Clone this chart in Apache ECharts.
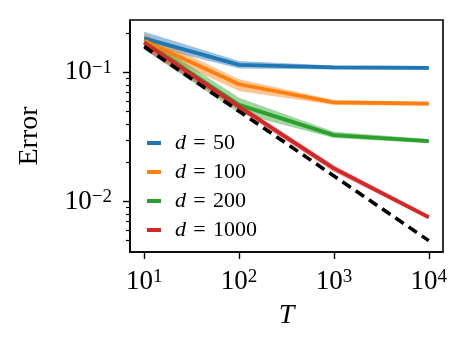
<!DOCTYPE html>
<html><head><meta charset="utf-8">
<script src="https://cdn.jsdelivr.net/npm/echarts@6/dist/echarts.min.js"></script>
<style>html,body{margin:0;padding:0;background:#fff}#c{width:467px;height:351px}</style>
</head><body><div id="c"></div>
<script>
// ---- data ----
const T = [10, 100, 1000, 10000];
const seriesNames = ['d = 50', 'd = 100', 'd = 200', 'd = 1000'];
const err50  = [0.183, 0.114, 0.109, 0.108];
const lo50   = [0.163, 0.107, 0.105, 0.104];
const hi50   = [0.206, 0.122, 0.113, 0.112];
const err100 = [0.175, 0.0808, 0.0586, 0.0572];
const lo100  = [0.155, 0.0717, 0.0558, 0.0552];
const hi100  = [0.198, 0.0883, 0.0611, 0.0593];
const err200 = [0.170, 0.056, 0.0327, 0.0294];
const lo200  = [0.150, 0.0482, 0.031, 0.0283];
const hi200  = [0.190, 0.0636, 0.0347, 0.0305];
const err1000 = [0.169, 0.0542, 0.0181, 0.00757];
const lo1000  = [0.150, 0.051, 0.0170, 0.00733];
const hi1000  = [0.183, 0.057, 0.0190, 0.00787];
const refT = [10, 10000];
const refErr = [0.158, 0.005];
const xTicks = [10, 100, 1000, 10000];
const yTicks = [0.01, 0.1];
const yMinorTicks = [0.005, 0.006, 0.007, 0.008, 0.009, 0.02, 0.03, 0.04, 0.05, 0.06, 0.07, 0.08, 0.09, 0.2];

const colors = ['#1f77b4', '#ff7f0e', '#2ca02c', '#d62728'];
const errs = [err50, err100, err200, err1000];
const los = [lo50, lo100, lo200, lo1000];
const his = [hi50, hi100, hi200, hi1000];
const FONT = 'Liberation Serif';

function supLabel(v) {
  const e = Math.round(Math.log10(v));
  return '10{sup|' + (e < 0 ? '\u2212' + (-e) : String(e)) + '}';
}

function band(lo, hi, color) {
  return {
    type: 'custom', silent: true, xAxisIndex: 0, yAxisIndex: 0,
    data: T.map((t, i) => [t, lo[i], hi[i]]),
    encode: { x: 0, y: [1, 2] },
    renderItem: function (params, api) {
      if (params.dataIndex !== 0) return;
      const pts = [];
      for (let i = 0; i < T.length; i++) pts.push(api.coord([T[i], hi[i]]));
      for (let i = T.length - 1; i >= 0; i--) pts.push(api.coord([T[i], lo[i]]));
      return { type: 'polygon', shape: { points: pts }, style: { fill: color, opacity: 0.45 } };
    }
  };
}

const series = [];
for (let k = 0; k < 4; k++) {
  series.push(band(los[k], his[k], colors[k]));
  series.push({
    type: 'line', name: seriesNames[k], data: T.map((t, i) => [t, errs[k][i]]),
    showSymbol: false, symbol: 'none', color: colors[k],
    itemStyle: { color: colors[k] },
    lineStyle: { color: colors[k], width: 3.8 }
  });
}
series.push({
  type: 'line', name: 'ref', data: refT.map((t, i) => [t, refErr[i]]),
  showSymbol: false, symbol: 'none',
  lineStyle: { color: '#000', width: 3.6, type: [10, 6] }
});

const labelRich = {
  sup: { fontSize: 19, lineHeight: 18, verticalAlign: 'top', fontFamily: FONT, color: '#000' }
};

const yMin = Math.pow(10, -2.389), yMax = Math.pow(10, -0.596);
const chart = echarts.init(document.getElementById('c'), null, { renderer: 'canvas' });
chart.setOption({
  animation: false,
  backgroundColor: '#fff',
  grid: { left: 130, right: 24, top: 20, bottom: 99, show: true, borderColor: '#000', borderWidth: 1.6, backgroundColor: 'transparent' },
  legend: {
    data: seriesNames, left: 147, top: 132, orient: 'vertical', padding: 0,
    icon: 'rect', itemWidth: 14, itemHeight: 4, itemGap: 7,
    formatter: n => '{i|d}\u2004=\u2004' + n.slice(4),
    textStyle: { fontFamily: FONT, fontSize: 22, lineHeight: 20, color: '#000', padding: [0, 0, 0, 9],
      rich: { i: { fontStyle: 'italic', fontFamily: FONT, fontSize: 22, lineHeight: 20, color: '#000' } } }
  },
  xAxis: {
    type: 'log', min: Math.pow(10, 0.85), max: Math.pow(10, 4.15),
    name: 'T', nameLocation: 'middle', nameGap: 50,
    nameTextStyle: { fontFamily: FONT, fontSize: 28, fontStyle: 'italic', color: '#000' },
    axisLine: { show: true, lineStyle: { color: '#000', width: 1.6 } },
    axisTick: { show: true, customValues: xTicks, length: 7, lineStyle: { color: '#000', width: 1.4 } },
    axisLabel: { customValues: xTicks, formatter: supLabel, margin: 16, fontFamily: FONT, fontSize: 27, lineHeight: 28, color: '#000', rich: labelRich },
    splitLine: { show: false }, minorTick: { show: false }
  },
  yAxis: [{
    type: 'log', min: yMin, max: yMax,
    name: 'Error', nameLocation: 'middle', nameGap: 86,
    nameTextStyle: { fontFamily: FONT, fontSize: 28, color: '#000' },
    axisLine: { show: true, lineStyle: { color: '#000', width: 1.6 } },
    axisTick: { show: true, customValues: yTicks, length: 7, lineStyle: { color: '#000', width: 1.4 } },
    axisLabel: { customValues: yTicks, formatter: supLabel, margin: 18, fontFamily: FONT, fontSize: 27, lineHeight: 28, color: '#000', rich: labelRich },
    splitLine: { show: false }
  }, {
    type: 'log', min: yMin, max: yMax, position: 'left',
    axisLine: { show: false },
    axisTick: { show: true, customValues: yMinorTicks, length: 4, lineStyle: { color: '#000', width: 1.2 } },
    axisLabel: { show: false }, splitLine: { show: false }
  }],
  series: series
});
</script></body></html>
